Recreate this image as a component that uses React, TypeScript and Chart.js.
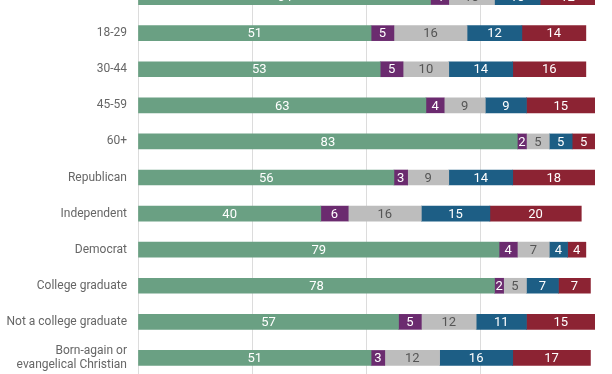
import React, { useEffect, useRef } from "react";
import { Chart, registerables } from "chart.js";

Chart.register(...registerables);

const categories: (string | string[])[] = [
  "Overall",
  "18-29",
  "30-44",
  "45-59",
  "60+",
  "Republican",
  "Independent",
  "Democrat",
  "College graduate",
  "Not a college graduate",
  ["Born-again or", "evangelical Christian"],
];

const seriesGreen = [64, 51, 53, 63, 83, 56, 40, 79, 78, 57, 51];
const seriesPurple = [4, 5, 5, 4, 2, 3, 6, 4, 2, 5, 3];
const seriesGray = [10, 16, 10, 9, 5, 9, 16, 7, 5, 12, 12];
const seriesBlue = [10, 12, 14, 9, 5, 14, 15, 4, 7, 11, 16];
const seriesRed = [12, 14, 16, 15, 5, 18, 20, 4, 7, 15, 17];

const xTicks = [0, 25, 50, 75, 100];

const colors = ["#6aa083", "#6b2b6f", "#bdbdbd", "#1d5e85", "#8c2333"];
const labelColors = ["#ffffff", "#ffffff", "#555555", "#ffffff", "#ffffff"];

const valueLabels = {
  id: "valueLabels",
  afterDatasetsDraw(chart: any) {
    const ctx = chart.ctx;
    ctx.save();
    ctx.font = "13px Roboto";
    ctx.textAlign = "center";
    ctx.textBaseline = "middle";
    chart.data.datasets.forEach((ds: any, di: number) => {
      const meta = chart.getDatasetMeta(di);
      meta.data.forEach((el: any, i: number) => {
        const v = ds.data[i];
        if (!v) return;
        const cx = (el.x + el.base) / 2;
        ctx.fillStyle = labelColors[di];
        ctx.fillText(String(v), cx, el.y + 1);
      });
    });
    ctx.restore();
  },
};

export default function App() {
  const ref = useRef<HTMLCanvasElement | null>(null);

  useEffect(() => {
    if (!ref.current) return;
    const series = [seriesGreen, seriesPurple, seriesGray, seriesBlue, seriesRed];
    const names = ["Response 1", "Response 2", "Response 3", "Response 4", "Response 5"];
    const chart = new Chart(ref.current, {
      type: "bar",
      data: {
        labels: categories,
        datasets: series.map((s, i) => ({
          label: names[i],
          data: s,
          backgroundColor: colors[i],
          borderWidth: 0,
          barThickness: 15,
        })),
      },
      options: {
        indexAxis: "y",
        animation: false,
        responsive: false,
        maintainAspectRatio: false,
        layout: { padding: 0 },
        plugins: {
          legend: { display: false },
          tooltip: { enabled: false },
        },
        scales: {
          x: {
            stacked: true,
            min: 0,
            max: 100,
            afterBuildTicks: (scale: any) => {
              scale.ticks = xTicks.map((v) => ({ value: v }));
            },
            afterFit: (scale: any) => {
              scale.height = 0;
              scale.paddingLeft = 0;
              scale.paddingRight = 0;
            },
            ticks: { display: false },
            border: { display: false },
            grid: { color: "#dcdcdc", drawTicks: false, lineWidth: 1 },
          },
          y: {
            stacked: true,
            afterFit: (scale: any) => {
              scale.width = 138;
              scale.paddingTop = 0;
              scale.paddingBottom = 0;
            },
            ticks: {
              color: "#666666",
              font: { family: "Roboto", size: 12 },
              padding: 11,
              autoSkip: false,
            },
            border: { display: false },
            grid: { display: false, drawTicks: false },
          },
        },
      },
      plugins: [valueLabels],
    });
    return () => chart.destroy();
  }, []);

  return (
    <div
      style={{
        position: "fixed",
        left: 0,
        top: 0,
        width: 612,
        height: 374,
        overflow: "hidden",
        background: "#ffffff",
      }}
    >
      <div style={{ position: "absolute", left: 0, top: -21, width: 612, height: 397 }}>
        <canvas ref={ref} width={595} height={397} style={{ display: "block" }} />
      </div>
    </div>
  );
}
